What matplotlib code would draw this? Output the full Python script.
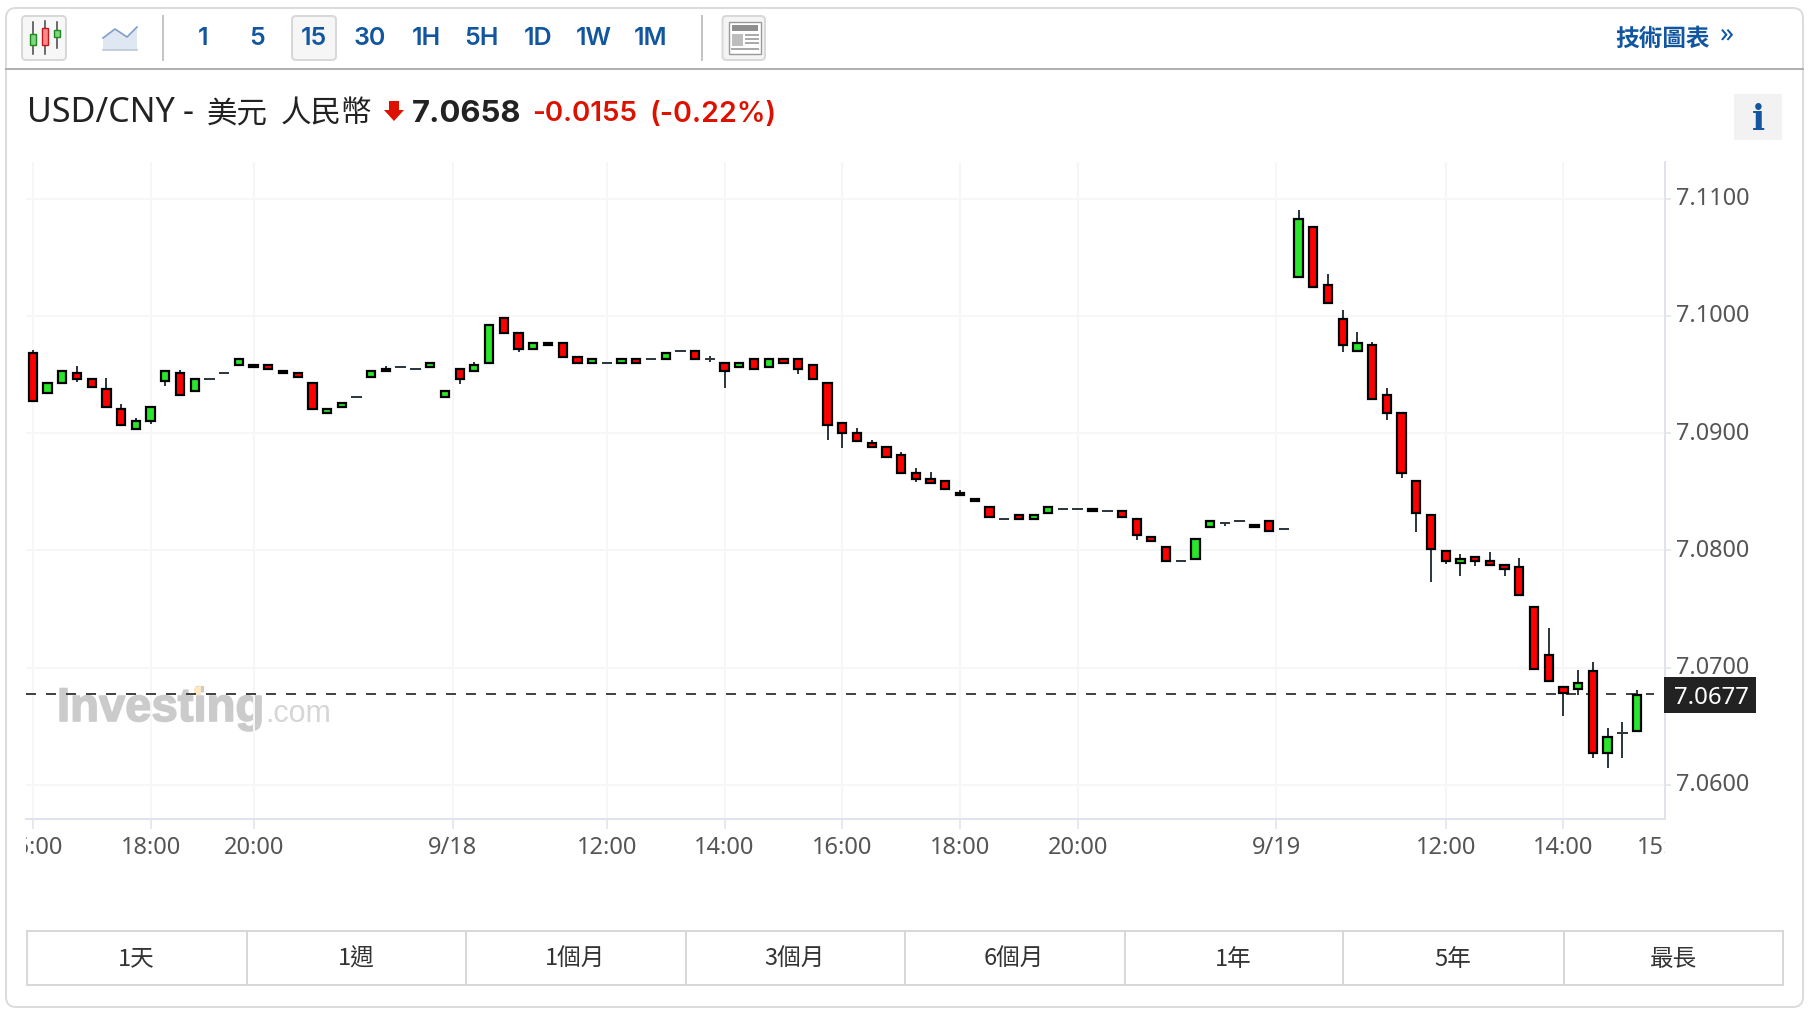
import matplotlib
matplotlib.use("Agg")
import matplotlib.pyplot as plt
import matplotlib.patheffects as pe
from matplotlib.patches import FancyBboxPatch, Rectangle, Polygon
from matplotlib.transforms import Bbox, ScaledTranslation

# candle data, 15 minute bars
opens = [7.09683,7.09342,7.09427,7.09513,7.09462,7.09376,7.09206,7.09035,7.09103,7.09445,
         7.09513,7.09359,7.09462,7.09513,7.09581,7.09581,7.09581,7.09530,7.09513,7.09427,
         7.09172,7.09223,7.09308,7.09479,7.09547,7.09564,7.09547,7.09564,7.09308,7.09547,
         7.09530,7.09598,7.09985,7.09854,7.09718,7.09769,7.09769,7.09649,7.09598,7.09598,
         7.09598,7.09632,7.09632,7.09632,7.09701,7.09701,7.09632,7.09598,7.09564,7.09632,
         7.09564,7.09632,7.09632,7.09581,7.09427,7.09086,7.09001,7.08916,7.08881,7.08813,
         7.08660,7.08608,7.08591,7.08489,7.08438,7.08370,7.08267,7.08301,7.08267,7.08318,
         7.08352,7.08352,7.08352,7.08335,7.08335,7.08267,7.08114,7.08028,7.07909,7.07926,
         7.08199,7.08233,7.08250,7.08216,7.08250,7.08182,7.10332,7.10758,7.10264,7.09974,
         7.09701,7.09752,7.09325,7.09172,7.08591,7.08301,7.07994,7.07892,7.07943,7.07909,
         7.07875,7.07858,7.07516,7.07107,7.06834,7.06817,7.06970,7.06271,7.06441,7.06458]
closes = [7.09274,7.09427,7.09530,7.09462,7.09393,7.09223,7.09069,7.09103,7.09223,7.09530,
          7.09325,7.09462,7.09462,7.09513,7.09632,7.09564,7.09547,7.09513,7.09479,7.09206,
          7.09206,7.09257,7.09308,7.09530,7.09530,7.09564,7.09547,7.09598,7.09359,7.09462,
          7.09581,7.09922,7.09854,7.09718,7.09769,7.09752,7.09649,7.09598,7.09632,7.09598,
          7.09632,7.09598,7.09632,7.09683,7.09701,7.09632,7.09632,7.09530,7.09598,7.09547,
          7.09632,7.09598,7.09547,7.09462,7.09069,7.09001,7.08933,7.08881,7.08796,7.08660,
          7.08608,7.08574,7.08523,7.08472,7.08421,7.08284,7.08267,7.08267,7.08301,7.08370,
          7.08352,7.08352,7.08335,7.08335,7.08284,7.08131,7.08079,7.07909,7.07909,7.08096,
          7.08250,7.08233,7.08250,7.08199,7.08165,7.08182,7.10827,7.10247,7.10110,7.09752,
          7.09769,7.09291,7.09172,7.08660,7.08318,7.08011,7.07909,7.07926,7.07909,7.07875,
          7.07841,7.07619,7.06987,7.06885,7.06783,7.06868,7.06271,7.06407,7.06441,7.06766]
highs = [7.09709,7.09427,7.09530,7.09573,7.09462,7.09470,7.09248,7.09129,7.09223,7.09530,
         7.09538,7.09462,7.09462,7.09513,7.09632,7.09581,7.09581,7.09530,7.09513,7.09427,
         7.09206,7.09257,7.09308,7.09530,7.09573,7.09564,7.09547,7.09598,7.09359,7.09547,
         7.09607,7.09922,7.09985,7.09854,7.09769,7.09769,7.09769,7.09649,7.09632,7.09598,
         7.09632,7.09632,7.09632,7.09683,7.09701,7.09701,7.09658,7.09598,7.09598,7.09632,
         7.09632,7.09632,7.09632,7.09581,7.09427,7.09086,7.09044,7.08941,7.08881,7.08839,
         7.08702,7.08668,7.08591,7.08515,7.08438,7.08370,7.08267,7.08301,7.08301,7.08370,
         7.08352,7.08352,7.08352,7.08335,7.08335,7.08267,7.08114,7.08028,7.07909,7.08096,
         7.08250,7.08233,7.08250,7.08216,7.08250,7.08182,7.10904,7.10758,7.10357,7.10050,
         7.09863,7.09777,7.09385,7.09172,7.08591,7.08301,7.07994,7.07969,7.07943,7.07986,
         7.07875,7.07934,7.07516,7.07337,7.06834,7.06979,7.07047,7.06484,7.06535,7.06808]
lows = [7.09274,7.09342,7.09427,7.09436,7.09393,7.09223,7.09069,7.09035,7.09078,7.09402,
        7.09325,7.09359,7.09462,7.09513,7.09581,7.09564,7.09547,7.09513,7.09479,7.09206,
        7.09172,7.09223,7.09308,7.09479,7.09530,7.09564,7.09547,7.09564,7.09308,7.09419,
        7.09530,7.09598,7.09854,7.09692,7.09718,7.09752,7.09649,7.09598,7.09598,7.09598,
        7.09598,7.09598,7.09632,7.09632,7.09701,7.09632,7.09607,7.09385,7.09564,7.09547,
        7.09564,7.09598,7.09504,7.09462,7.08941,7.08873,7.08933,7.08881,7.08796,7.08660,
        7.08583,7.08574,7.08523,7.08472,7.08421,7.08284,7.08267,7.08267,7.08267,7.08318,
        7.08352,7.08352,7.08335,7.08335,7.08284,7.08088,7.08079,7.07909,7.07909,7.07926,
        7.08199,7.08207,7.08250,7.08199,7.08165,7.08182,7.10332,7.10247,7.10110,7.09692,
        7.09701,7.09291,7.09112,7.08617,7.08156,7.07730,7.07883,7.07781,7.07866,7.07875,
        7.07781,7.07619,7.06987,7.06885,7.06586,7.06766,7.06228,7.06143,7.06228,7.06458]
last_price = 7.0677

# axes labels
y_ticks = [7.06, 7.07, 7.08, 7.09, 7.10, 7.11]
x_ticks = [0, 8, 15, 28.54, 39, 47, 55, 63, 71, 84.5, 96, 104]
x_labels = ["16:00", "18:00", "20:00", "9/18", "12:00", "14:00", "16:00", "18:00", "20:00", "9/19", "12:00", "14:00"]

# page text
intervals = ["1", "5", "15", "30", "1H", "5H", "1D", "1W", "1M"]
ranges = ["1天", "1週", "1個月", "3個月", "6個月", "1年", "5年", "最長"]

BLUE = "#1256a0"
RED = "#dd1100"
CJK = ["Noto Sans CJK TC", "DejaVu Sans"]

fig = plt.figure(figsize=(18.11, 10.13), dpi=100, facecolor="white")

# page layer in pixel coordinates
ui = fig.add_axes([0, 0, 1, 1], zorder=0)
ui.set_xlim(0, 1811)
ui.set_ylim(1013, 0)
ui.axis("off")


def box(x0, y0, x1, y1, fc="white", ec="#d8d8d8", r=4, lw=1.44, z=1):
    p = FancyBboxPatch((x0, y0), x1 - x0, y1 - y0, boxstyle=f"round,pad=0,rounding_size={r}",
                       fc=fc, ec=ec, lw=lw, zorder=z)
    ui.add_patch(p)


def txt(x, y, s, size, color="#222222", ha="center", family=None, weight="normal", z=3):
    return ui.text(x, y, s, fontsize=size, color=color, ha=ha, va="center",
                   family=family or CJK, fontweight=weight, zorder=z)


# outer frame and header
box(6, 8, 1803, 1007, ec="#dcdcdc", r=10, z=0)
ui.plot([6, 1803], [69, 69], color="#b0b0b0", lw=1.44, zorder=1)

# candle button
box(22, 16, 66, 60, fc="#f7f7f7")
for x, w0, w1, b0, b1, fc, ec in [(33, 22, 54, 34, 45, "#7fd67f", "#1f8a1f"),
                                  (45, 21, 54, 28, 45, "#ff8a8a", "#c01818"),
                                  (57, 22, 48, 30, 37, "#7fd67f", "#1f8a1f")]:
    ui.plot([x, x], [w0, w1], color="#444444", lw=1.1, zorder=2)
    ui.add_patch(Rectangle((x - 3, b0), 6, b1 - b0, fc=fc, ec=ec, lw=1, zorder=3))

# line button
ui.add_patch(Polygon([(103, 38), (115, 29), (127, 37), (137, 27), (137, 50), (103, 50)],
                     fc="#dfe7f3", ec="none", zorder=2))
ui.plot([103, 115, 127, 137], [38, 29, 37, 27], color="#7f9fc9", lw=1.2, zorder=3)
ui.plot([103, 137], [50, 50], color="#bcc8d8", lw=1.2, zorder=3)

ui.plot([163, 163], [16, 60], color="#c4c4c4", lw=1.44, zorder=1)
ui.plot([701.5, 701.5], [16, 60], color="#c4c4c4", lw=1.44, zorder=1)

box(292, 16, 336, 60, fc="#f6f6f6")
interval_x = [202.6, 257.6, 313.8, 370, 426, 481.6, 537.8, 594, 650.5]
for x, s in zip(interval_x, intervals):
    txt(x, 38, s, 18, BLUE, family=["Inter"], weight="semibold")

# layout button
box(722.5, 16, 765, 60, fc="#f4f4f4")
ui.add_patch(Rectangle((729, 22), 32, 32, fc="white", ec="#999999", lw=1, zorder=2))
ui.add_patch(Rectangle((732, 25), 26, 6, fc="#8f8f8f", ec="none", zorder=3))
ui.add_patch(Rectangle((732, 34), 11, 12, fc="#bdbdbd", ec="none", zorder=3))
for yy in [35, 39, 43, 49]:
    ui.plot([746 if yy < 49 else 732, 758], [yy, yy], color="#a8a8a8", lw=1.4, zorder=3)

txt(1615, 39, "技術圖表", 17, BLUE, ha="left", weight="bold")
txt(1720, 36, "»", 20, BLUE, ha="left", family=["Noto Sans"])

# title row
txt(27, 113, "USD/CNY", 24.5, "#222222", ha="left", family=["Noto Sans"])
txt(188, 113, "-", 24.5, "#222222", family=["Noto Sans"])
txt(207, 114, "美元", 22, "#222222", ha="left")
txt(281, 114, "人民幣", 22, "#222222", ha="left")
ui.add_patch(Polygon([(389, 101), (399, 101), (399, 110), (404, 110), (394, 121), (384, 110), (389, 110)],
                     fc=RED, ec="none", zorder=3))
txt(412, 114, "7.0658", 22.4, "#222222", ha="left", family=["Inter"], weight="bold")
txt(532, 114, "-0.0155", 20, RED, ha="left", family=["Inter"], weight="semibold")
txt(649, 114, "(-0.22%)", 20.6, RED, ha="left", family=["Inter"], weight="semibold")

ui.add_patch(Rectangle((1734, 94), 48, 46, fc="#f2f2f2", ec="none", zorder=1))
txt(1758, 120, "i", 25, BLUE, family=["DejaVu Serif"], weight="bold")

# watermark
inv = txt(57, 709, "Investing", 34, "#cbcbcb", ha="left", family=["Liberation Sans"], weight="bold", z=1)
inv.set_path_effects([pe.withStroke(linewidth=1.2, foreground="#cbcbcb")])
txt(265, 714, ".com", 22, "#d6d6d6", ha="left", family=["Liberation Sans"], z=1)
ui.add_patch(Polygon([(194, 688), (201, 685), (201, 695), (194, 695)], fc="#fbe7c2", ec="none", zorder=2))

# range buttons
ui.add_patch(Rectangle((26.5, 931), 1756.5, 54, fc="white", ec="#d8d8d8", lw=1.44, zorder=1))
for x in [247, 466, 686, 904.6, 1125, 1343, 1564]:
    ui.plot([x, x], [931, 985], color="#d8d8d8", lw=1.44, zorder=2)
range_x = [136, 356, 575, 795, 1014, 1233.5, 1453, 1673.6]
for x, s in zip(range_x, ranges):
    txt(x, 959, s, 17, "#333333")

# chart axes, 25..1665 px wide, 162..819 px high
ax = fig.add_axes([25.5 / 1811, 1 - 819.3 / 1013, (1665 - 25.5) / 1811, (819.3 - 162) / 1013], zorder=1)
ax.patch.set_visible(False)
ax.set_xlim(-0.5, 110.9)
ax.set_ylim(7.05705, 7.11313)

ax.set_axisbelow(True)
ax.grid(True, color="#f6f6f7", lw=1.44)
for side in ["top", "left"]:
    ax.spines[side].set_visible(False)
for side in ["right", "bottom"]:
    ax.spines[side].set_color("#e0e3eb")
    ax.spines[side].set_linewidth(1.44)

ax.yaxis.tick_right()
ax.set_yticks(y_ticks)
ax.set_yticklabels([f"{v:.4f}" for v in y_ticks], family="Noto Sans", fontsize=16.9, color="#555555")
ax.tick_params(axis="y", length=4.3, width=1.44, color="#e6e9ee", pad=3.5)
ax.set_xticks(x_ticks)
ax.set_xticklabels(x_labels, family="Noto Sans", fontsize=17, color="#555555")
ax.tick_params(axis="x", length=7.2, width=1.44, color="#e6e9ee", pad=4.5)

# y labels sit a little above their grid lines
up = ScaledTranslation(0, 2.5 / 100, fig.dpi_scale_trans)
for lab in ax.get_yticklabels():
    lab.set_transform(lab.get_transform() + up)

# x labels get cut at the edges of the plot
clip = Bbox([[25.5, 0], [1665, 1013]])
for lab in ax.get_xticklabels():
    lab.set_clip_box(clip)
    lab.set_clip_on(True)
cut = ax.text(111.05, -16.5 / 657.3, "15:00", transform=ax.get_xaxis_transform(), family="Noto Sans", fontsize=17,
              color="#555555", ha="center", va="top")
cut.set_clip_box(clip)
cut.set_clip_on(True)

# last price line
ax.axhline(last_price, color="#444444", lw=1.44, linestyle=(0, (5, 5)), xmax=0.993, zorder=2)

# candles
idx = list(range(len(opens)))
wick_color = "#2e3a3f"
ax.vlines(idx, lows, highs, color=wick_color, lw=1.44, zorder=3)
flat = [i for i in idx if opens[i] == closes[i]]
ax.hlines([opens[i] for i in flat], [i - 0.36 for i in flat], [i + 0.36 for i in flat],
          color=wick_color, lw=1.44, zorder=3)
body = [i for i in idx if opens[i] != closes[i]]
ax.bar(body, [abs(closes[i] - opens[i]) for i in body], bottom=[min(opens[i], closes[i]) for i in body],
       width=0.56, color=["#2ae62a" if closes[i] > opens[i] else "#ff0000" for i in body],
       edgecolor="black", linewidth=1.6, zorder=4)

# last price flag, on top of the axis labels
ax.add_patch(Rectangle((1664, 677), 92, 36, fc="#222222", ec="none", transform=ui.transData,
                       clip_on=False, zorder=10))
ax.text(1711, 697.5, f"{last_price:.4f}", transform=ui.transData, family="Noto Sans", fontsize=17.3,
        color="white", ha="center", va="center", clip_on=False, zorder=11)

fig.savefig("out.png", dpi=100, facecolor="white")
